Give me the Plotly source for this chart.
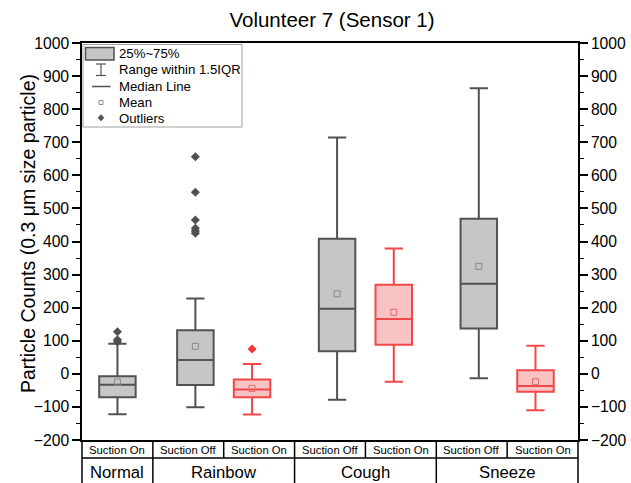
import plotly.graph_objects as go

# ---------------- data ----------------
groups = ["Normal", "Rainbow", "Cough", "Sneeze"]
group_span = [1, 2, 2, 2]  # number of condition cells per group
conditions = ["Suction On", "Suction Off", "Suction On", "Suction Off",
              "Suction On", "Suction Off", "Suction On"]
series_kind = ["gray", "gray", "red", "gray", "red", "gray", "red"]

q1 = [-71, -34, -71, 68, 88, 137, -54]
median = [-33, 42, -47, 197, 166, 272, -37]
q3 = [-7, 132, -17, 408, 269, 469, 11]
lower_fence = [-122, -101, -123, -78, -24, -13, -110]
upper_fence = [91, 228, 30, 714, 379, 863, 85]
means = [-25, 83, -44, 242, 186, 325, -24]
outliers = [[127, 103, 97], [656, 549, 465, 440, 432, 425], [75], [], [], [], []]

y_ticks = list(range(-200, 1001, 100))

# ---------------- layout helpers ----------------
W, H = 631, 483
L, R, T, B = 82, 578, 43, 440


def px(x):
    return (x - L) / (R - L)


def py(y):
    return (B - y) / (B - T)


FONT = "Liberation Sans, Arial, sans-serif"
GRAY_LINE, GRAY_FILL = "#525252", "#c6c6c6"
RED_LINE, RED_FILL = "#f04848", "#f9c3c3"

slots = list(range(1, 8))
pos = []
for i, s in enumerate(slots):
    if i == 0:
        pos.append(s)
    elif conditions[i] == "Suction Off":
        pos.append(s + 0.1)
    else:
        pos.append(s - 0.1)

fig = go.Figure()

for i in range(7):
    red = series_kind[i] == "red"
    lc, fc = (RED_LINE, RED_FILL) if red else (GRAY_LINE, GRAY_FILL)
    fig.add_trace(go.Box(
        x=[pos[i]], q1=[q1[i]], median=[median[i]], q3=[q3[i]],
        lowerfence=[lower_fence[i]], upperfence=[upper_fence[i]],
        width=0.515, whiskerwidth=0.5, fillcolor=fc,
        line=dict(color=lc, width=2), boxpoints=False,
        showlegend=False, hoverinfo="skip"))
    mc = "#e06a6a" if red else "#8a8a8a"
    fig.add_trace(go.Scatter(
        x=[pos[i]], y=[means[i]], mode="markers",
        marker=dict(symbol="square-open", size=6, color=mc, line=dict(width=1)),
        showlegend=False, hoverinfo="skip"))
    if outliers[i]:
        oc = "#f03838" if red else "#505050"
        fig.add_trace(go.Scatter(
            x=[pos[i]] * len(outliers[i]), y=outliers[i], mode="markers",
            marker=dict(symbol="diamond", size=7, color=oc),
            showlegend=False, hoverinfo="skip"))

# invisible trace for right axis
fig.add_trace(go.Scatter(x=[1], y=[0], yaxis="y2", mode="markers",
                         marker=dict(opacity=0), showlegend=False, hoverinfo="skip"))

shapes = []
annotations = []

# ---- bottom category table ----
LINE = dict(color="black", width=1.5)
row1_bottom = py(458)
row2_bottom = py(485)
shapes.append(dict(type="line", xref="paper", yref="paper", x0=0, x1=0, y0=0, y1=row2_bottom, line=LINE))
shapes.append(dict(type="line", xref="paper", yref="paper", x0=1, x1=1, y0=0, y1=row2_bottom, line=LINE))
shapes.append(dict(type="line", xref="paper", yref="paper", x0=0, x1=1, y0=row1_bottom, y1=row1_bottom, line=LINE))
for k in range(1, 7):
    shapes.append(dict(type="line", xref="x", yref="paper", x0=k + 0.5, x1=k + 0.5,
                       y0=0, y1=row1_bottom, line=LINE))
for i, c in enumerate(conditions):
    annotations.append(dict(text=c, xref="x", yref="paper", x=slots[i], y=py(449.5),
                            xanchor="center", yanchor="middle",
                            showarrow=False, font=dict(size=11.3, family=FONT, color="black")))
start = 0.5
for g, span in zip(groups, group_span):
    end = start + span
    if end < 7.5:
        shapes.append(dict(type="line", xref="x", yref="paper", x0=end, x1=end,
                           y0=row1_bottom, y1=row2_bottom, line=LINE))
    annotations.append(dict(text=g, xref="x", yref="paper", x=(start + end) / 2, y=py(472),
                            xanchor="center", yanchor="middle",
                            showarrow=False, font=dict(size=16.7, family=FONT, color="black")))
    start = end

# ---- custom legend ----
shapes.append(dict(type="rect", xref="paper", yref="paper", x0=px(83), x1=px(242),
                   y0=py(44.5), y1=py(127), line=dict(color="#a0a0a0", width=1),
                   fillcolor="white", layer="above"))
shapes.append(dict(type="rect", xref="paper", yref="paper", x0=px(85.5), x1=px(114),
                   y0=py(47.5), y1=py(60), line=dict(color=GRAY_LINE, width=1.5),
                   fillcolor=GRAY_FILL, layer="above"))
for (x0, y0, x1, y1) in [(96, 64, 106, 64), (101, 64, 101, 75.5), (96, 75.5, 106, 75.5)]:
    shapes.append(dict(type="line", xref="paper", yref="paper", x0=px(x0), x1=px(x1),
                       y0=py(y0), y1=py(y1), line=dict(color=GRAY_LINE, width=1.2), layer="above"))
shapes.append(dict(type="line", xref="paper", yref="paper", x0=px(92), x1=px(110.5),
                   y0=py(86.5), y1=py(86.5), line=dict(color=GRAY_LINE, width=1.5), layer="above"))
shapes.append(dict(type="rect", xref="paper", yref="paper", x0=px(99), x1=px(103),
                   y0=py(100.5), y1=py(104.5), line=dict(color="#909090", width=1),
                   fillcolor="white", layer="above"))
shapes.append(dict(type="path", xref="paper", yref="paper", layer="above",
                   path=f"M {px(101)},{py(114.5)} L {px(104)},{py(117.7)} L {px(101)},{py(121)} L {px(98)},{py(117.7)} Z",
                   fillcolor="#505050", line=dict(color="#505050", width=0.5)))
for txt, yy in [("25%~75%", 54), ("Range within 1.5IQR", 69.5), ("Median Line", 86.5),
                ("Mean", 102.5), ("Outliers", 118)]:
    annotations.append(dict(text=txt, xref="paper", yref="paper", x=px(117), y=py(yy),
                            xanchor="left", yanchor="middle", showarrow=False,
                            font=dict(size=13.2, family=FONT, color="black")))

# y-axis title
annotations.append(dict(text="Particle Counts (0.3 μm size particle)", xref="paper", yref="paper",
                        x=px(28), y=py(234), textangle=-90, showarrow=False,
                        xanchor="center", yanchor="middle",
                        font=dict(size=19.5, family=FONT, color="black")))

axis_common = dict(range=[-200, 1000], tickvals=y_ticks, ticks="outside", ticklen=8,
                   tickwidth=1.5, tickcolor="black", showline=True, linecolor="black",
                   linewidth=1.5, showgrid=False, zeroline=False,
                   tickfont=dict(size=15.7, family=FONT, color="black"),
                   minor=dict(dtick=50, ticks="outside", ticklen=4, tickwidth=1.2,
                              tickcolor="black", showgrid=False))

fig.update_layout(
    width=W, height=H,
    margin=dict(l=L, r=W - R, t=T, b=H - B, pad=0, autoexpand=False),
    paper_bgcolor="white", plot_bgcolor="white",
    title=dict(text="Volunteer 7 (Sensor 1)", x=px(332), xref="paper", y=1 - 20 / H,
               yanchor="middle", xanchor="center",
               font=dict(size=20.5, family=FONT, color="black")),
    xaxis=dict(range=[0.5, 7.5], showticklabels=False, ticks="", showline=True,
               linecolor="black", linewidth=1.5, mirror=True, showgrid=False, zeroline=False),
    yaxis=dict(side="left", automargin=False, **axis_common),
    yaxis2=dict(side="right", overlaying="y", automargin=False, **axis_common),
    shapes=shapes, annotations=annotations,
    font=dict(family=FONT),
)

fig.write_html("out.html", config={"displayModeBar": False},
               post_script="document.body.style.margin='0';")
